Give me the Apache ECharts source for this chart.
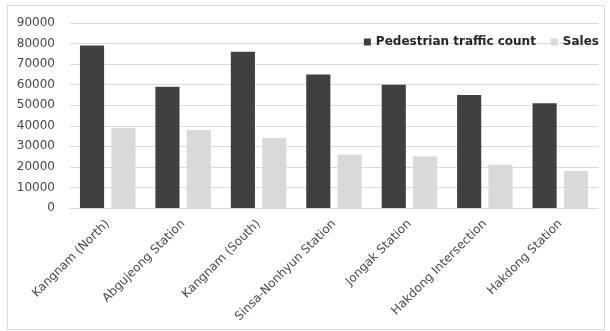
<!DOCTYPE html>
<html>
<head>
<meta charset="utf-8">
<script src="https://cdn.jsdelivr.net/npm/echarts@6/dist/echarts.min.js"></script>
<style>
  html, body { margin: 0; padding: 0; background: #fff; }
  #frame { position: absolute; left: 7px; top: 5px; width: 598px; height: 325px; border: 1px solid #d9d9d9; box-sizing: border-box; }
  #chart { position: absolute; left: 0; top: 0; width: 610px; height: 331px; }
</style>
</head>
<body>
<div id="frame"></div>
<div id="chart"></div>
<script>
// Locations and their counts
const categories = ['Kangnam (North)', 'Abgujeong Station', 'Kangnam (South)', 'Sinsa-Nonhyun Station', 'Jongak Station', 'Hakdong Intersection', 'Hakdong Station'];
const pedestrianTraffic = [79000, 59000, 76000, 65000, 60000, 55000, 51000];
const sales = [39000, 38000, 34000, 26000, 25000, 21000, 18000];
const yTicks = { min: 0, max: 90000, interval: 10000 };

const FONT = 'DejaVu Sans';
const chart = echarts.init(document.getElementById('chart'), null, { renderer: 'canvas' });
chart.setOption({
  animation: false,
  backgroundColor: 'transparent',
  textStyle: { fontFamily: FONT },
  grid: { left: 70, right: 12, top: 23, bottom: 123, containLabel: false },
  legend: {
    top: 31, right: 6,
    itemWidth: 7, itemHeight: 7, itemGap: 15,
    icon: 'rect',
    textStyle: { fontFamily: FONT, fontSize: 12, fontWeight: 'bold', color: '#262626' },
    data: ['Pedestrian traffic count', 'Sales']
  },
  xAxis: {
    type: 'category',
    data: categories,
    axisLine: { lineStyle: { color: '#d9d9d9' } },
    axisTick: { show: false },
    axisLabel: { rotate: 45, interval: 0, color: '#474747', fontSize: 12, fontFamily: FONT, margin: 14 }
  },
  yAxis: {
    type: 'value',
    min: yTicks.min, max: yTicks.max, interval: yTicks.interval,
    axisLine: { show: false },
    axisTick: { show: false },
    splitLine: { lineStyle: { color: '#d9d9d9', width: 1 } },
    axisLabel: { color: '#474747', fontSize: 12, fontFamily: FONT, margin: 15, formatter: v => String(v) }
  },
  series: [
    { name: 'Pedestrian traffic count', type: 'bar', data: pedestrianTraffic, barWidth: '32%', barGap: '30%',
      itemStyle: { color: '#404040' } },
    { name: 'Sales', type: 'bar', data: sales, barWidth: '32%',
      itemStyle: { color: '#d9d9d9' } }
  ]
});
</script>
</body>
</html>
